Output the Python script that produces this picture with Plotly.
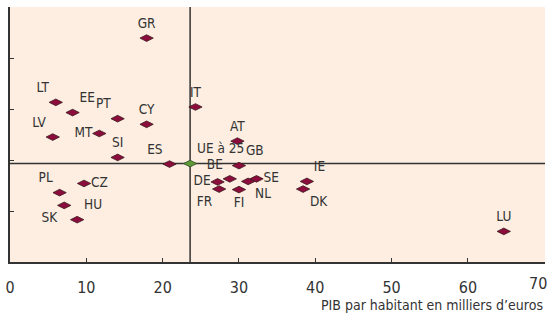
import plotly.graph_objects as go

countries = ["GR", "LT", "EE", "PT", "CY", "LV", "MT", "SI", "ES", "PL", "CZ", "SK", "HU",
             "IT", "AT", "GB", "DE", "BE", "FR", "FI", "NL", "SE", "IE", "DK", "LU"]
gdp = [17.9, 6.0, 8.2, 14.1, 17.9, 5.6, 11.7, 14.1, 20.9, 6.5, 9.7, 7.1, 8.8,
       24.3, 29.8, 30.0, 27.2, 28.8, 27.4, 30.0, 31.2, 32.3, 38.9, 38.4, 64.7]
yval = [4.39, 3.13, 2.93, 2.81, 2.70, 2.45, 2.52, 2.05, 1.92, 1.36, 1.54, 1.11, 0.83,
        3.04, 2.37, 1.89, 1.57, 1.63, 1.43, 1.42, 1.58, 1.63, 1.58, 1.43, 0.60]
label_pos = ["top center", "top left", "top right", "top left", "top center", "top left",
             "middle left", "top center", "top left", "top left", "middle right", "bottom left",
             "top right", "top center", "top center", "top right", "middle left", "top left",
             "bottom left", "bottom center", "bottom right", "middle right", "top right",
             "bottom right", "top center"]

eu_label = "UE à 25"
eu_gdp = 23.6
eu_y = 1.93

x_ticks = [0, 10, 20, 30, 40, 50, 60, 70]
x_tick_text = ["0", "10", "20", "30", "40", "50", "60", "70"]
y_ticks = [0, 1, 2, 3, 4, 5]
x_title = "PIB par habitant en milliers d’euros"
x_range = [0, 70.1]

FONT = "DejaVu Sans Condensed, Liberation Sans Narrow, Arial Narrow, sans-serif"
TXT = "#333333"

fig = go.Figure()

fig.add_shape(type="line", x0=eu_gdp, x1=eu_gdp, y0=0, y1=1, yref="paper", xref="x",
              line=dict(color="#333333", width=1.5), layer="below")
fig.add_shape(type="line", y0=eu_y, y1=eu_y, x0=0, x1=1, xref="paper", yref="y",
              line=dict(color="#333333", width=1.5), layer="below")

fig.add_trace(go.Scatter(
    x=gdp, y=yval, mode="markers+text", text=countries, textposition=label_pos,
    textfont=dict(family=FONT, size=13.5, color=TXT),
    marker=dict(symbol="diamond-wide", size=9.5, color="#8c0c3c",
                line=dict(color="#3a1a20", width=0.8)),
    cliponaxis=False, showlegend=False, hoverinfo="skip"))

fig.add_trace(go.Scatter(
    x=[eu_gdp], y=[eu_y], mode="markers+text", text=[eu_label], textposition="top right",
    textfont=dict(family=FONT, size=13.5, color=TXT),
    marker=dict(symbol="diamond-wide", size=9.5, color="#5e9a3a",
                line=dict(color="#2f4a20", width=0.8)),
    cliponaxis=False, showlegend=False, hoverinfo="skip"))

# invisible copy of the EU point so the overlay axis (last tick label) gets drawn
fig.add_trace(go.Scatter(
    x=[eu_gdp], y=[eu_y], mode="markers", xaxis="x2", yaxis="y",
    marker=dict(size=1, opacity=0), showlegend=False, hoverinfo="skip"))

tick_common = dict(showgrid=False, zeroline=False, ticks="inside", ticklen=4,
                   tickcolor="#333333", automargin=False, ticklabeloverflow="allow",
                   tickfont=dict(family=FONT, size=16, color=TXT), ticklabelstandoff=10)

fig.update_layout(
    width=549, height=315,
    margin=dict(l=9.5, r=4, t=7, b=53, autoexpand=False),
    paper_bgcolor="white", plot_bgcolor="#fdeee1",
    font=dict(family=FONT, size=13, color=TXT),
    xaxis=dict(range=x_range, tickvals=x_ticks[:-1], ticktext=x_tick_text[:-1],
               showline=True, linecolor="#333333", linewidth=1.5, **tick_common),
    xaxis2=dict(range=x_range, overlaying="x", side="bottom", anchor="y",
                tickvals=x_ticks[-1:], ticktext=x_tick_text[-1:], ticklabelshift=-6,
                showline=False, **tick_common),
    yaxis=dict(range=[0, 5.0], tickvals=y_ticks, showticklabels=False, automargin=False,
               showgrid=False, zeroline=False, showline=True, linecolor="#333333",
               linewidth=1.5, ticks="inside", ticklen=4, tickcolor="#333333"),
    annotations=[dict(text=x_title, x=1, xref="paper", xanchor="right",
                      y=-0.169, yref="paper", yanchor="middle", showarrow=False,
                      font=dict(family=FONT, size=14, color=TXT))],
)

fig.write_html("out.html", config={"displayModeBar": False},
               post_script="document.body.style.margin='0';")
